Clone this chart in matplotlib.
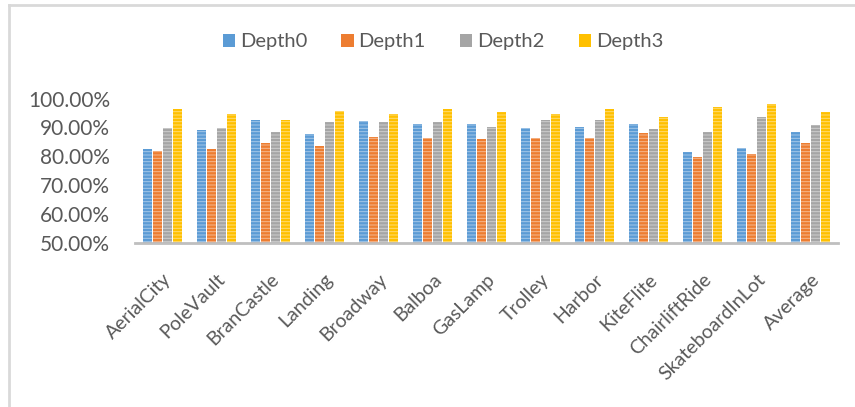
import numpy as np
import matplotlib.pyplot as plt
from matplotlib.lines import Line2D
from matplotlib.ticker import PercentFormatter
from matplotlib.colors import to_rgb

plt.rcParams['font.family'] = ['Lato', 'DejaVu Sans']

categories = ['AerialCity', 'PoleVault', 'BranCastle', 'Landing', 'Broadway', 'Balboa',
              'GasLamp', 'Trolley', 'Harbor', 'KiteFlite', 'ChairliftRide',
              'SkateboardInLot', 'Average']
series_names = ['Depth0', 'Depth1', 'Depth2', 'Depth3']

depth0 = [0.824, 0.890, 0.926, 0.877, 0.922, 0.913, 0.913, 0.899, 0.903, 0.913, 0.814, 0.828, 0.885]
depth1 = [0.820, 0.824, 0.846, 0.837, 0.868, 0.863, 0.859, 0.863, 0.863, 0.882, 0.797, 0.809, 0.846]
depth2 = [0.899, 0.899, 0.885, 0.917, 0.917, 0.917, 0.903, 0.926, 0.926, 0.894, 0.885, 0.936, 0.908]
depth3 = [0.962, 0.948, 0.926, 0.957, 0.948, 0.962, 0.953, 0.948, 0.962, 0.936, 0.971, 0.980, 0.953]

colors = ['#5B9BD5', '#ED7D31', '#A5A5A5', '#FFC000']
text_color = '#595959'

fig = plt.figure(figsize=(8.55, 4.07), dpi=100)
ax = fig.add_axes([135 / 855, 1 - 243 / 407, (838 - 135) / 855, (243 - 98.5) / 407])

x = np.arange(len(categories))
step = 0.185
plt.rcParams['hatch.linewidth'] = 0.7
for k, (vals, col) in enumerate(zip([depth0, depth1, depth2, depth3], colors)):
    # lighter stripes across each bar
    light = tuple(c + (1 - c) * 0.45 for c in to_rgb(col))
    ax.bar(x + (k - 1.5) * step, vals, width=step * 0.9, color=col,
           edgecolor=light, linewidth=0, hatch='-----', label=series_names[k], zorder=2)

ax.set_xlim(-0.5, len(categories) - 0.5)
ax.set_ylim(0.5, 1.0)
ax.set_yticks(np.arange(0.5, 1.01, 0.1))
ax.yaxis.set_major_formatter(PercentFormatter(1.0, decimals=2))

for s in ['top', 'right', 'left']:
    ax.spines[s].set_visible(False)
ax.spines['bottom'].set_color('#BFBFBF')
ax.spines['bottom'].set_linewidth(2)

ax.tick_params(axis='y', length=0, pad=18, labelsize=15, labelcolor=text_color)
ax.tick_params(axis='x', length=0, pad=20, labelsize=14, labelcolor=text_color)
ax.set_xticks(x)
ax.set_xticklabels(categories, rotation=45, ha='right', va='top', rotation_mode='anchor')

leg = fig.legend(loc='center', bbox_to_anchor=(443 / 855, 1 - 42 / 407), ncol=4,
                 frameon=False, fontsize=14.5, handlelength=0.6, handleheight=0.6,
                 handletextpad=0.25, columnspacing=1.7, labelcolor=text_color)
for h in leg.legend_handles:
    h.set_hatch(None)

# outer chart frame
frame = '#D9D9D9'
fig.add_artist(Line2D([9 / 855, 9 / 855], [0, 1 - 5 / 407], color=frame, lw=2))
fig.add_artist(Line2D([9 / 855, 1], [1 - 5 / 407, 1 - 5 / 407], color=frame, lw=2))

fig.savefig('out.png', dpi=100)
